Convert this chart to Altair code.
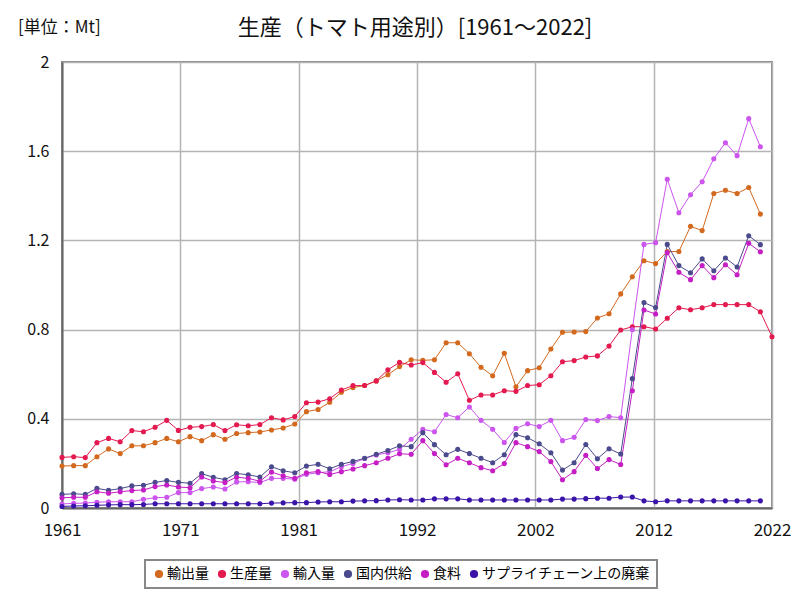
import altair as alt
import pandas as pd

years = list(range(1961, 2023))

export_qty = [0.188, 0.190, 0.190, 0.230, 0.265, 0.244, 0.279, 0.279, 0.293, 0.312,
              0.297, 0.320, 0.302, 0.329, 0.308, 0.334, 0.338, 0.341, 0.350, 0.359,
              0.377, 0.432, 0.442, 0.474, 0.519, 0.540, 0.549, 0.570, 0.598, 0.634,
              0.665, 0.662, 0.665, 0.741, 0.741, 0.692, 0.631, 0.593, 0.694, 0.544,
              0.616, 0.629, 0.713, 0.788, 0.789, 0.791, 0.852, 0.871, 0.960, 1.037,
              1.109, 1.096, 1.150, 1.150, 1.263, 1.244, 1.410, 1.425, 1.410, 1.437,
              1.318, None]
production = [0.227, 0.230, 0.226, 0.293, 0.312, 0.297, 0.347, 0.342, 0.362, 0.393,
              0.348, 0.362, 0.365, 0.374, 0.347, 0.373, 0.369, 0.374, 0.405, 0.395,
              0.410, 0.472, 0.475, 0.490, 0.529, 0.549, 0.549, 0.570, 0.620, 0.653,
              0.641, 0.652, 0.608, 0.564, 0.602, 0.483, 0.507, 0.507, 0.526, 0.523,
              0.549, 0.553, 0.593, 0.656, 0.661, 0.677, 0.682, 0.726, 0.798, 0.813,
              0.813, 0.803, 0.851, 0.898, 0.889, 0.898, 0.912, 0.912, 0.912, 0.912,
              0.880, 0.768]
import_qty = [0.018, 0.021, 0.022, 0.026, 0.028, 0.028, 0.028, 0.039, 0.046, 0.048,
              0.069, 0.069, 0.087, 0.094, 0.085, 0.117, 0.118, 0.114, 0.133, 0.133,
              0.129, 0.151, 0.158, 0.163, 0.185, 0.200, 0.222, 0.238, 0.248, 0.262,
              0.308, 0.353, 0.342, 0.419, 0.405, 0.453, 0.393, 0.353, 0.294, 0.357,
              0.378, 0.365, 0.393, 0.302, 0.317, 0.397, 0.392, 0.410, 0.405, 0.800,
              1.182, 1.190, 1.474, 1.324, 1.405, 1.463, 1.566, 1.638, 1.580, 1.746,
              1.620, None]
domestic = [0.061, 0.064, 0.061, 0.088, 0.079, 0.087, 0.099, 0.102, 0.115, 0.123,
            0.115, 0.111, 0.154, 0.138, 0.127, 0.155, 0.149, 0.139, 0.185, 0.167,
            0.158, 0.188, 0.196, 0.176, 0.196, 0.209, 0.223, 0.241, 0.258, 0.279,
            0.275, 0.338, 0.284, 0.239, 0.263, 0.244, 0.223, 0.203, 0.239, 0.329,
            0.315, 0.288, 0.248, 0.170, 0.203, 0.285, 0.221, 0.266, 0.242, 0.580,
            0.921, 0.899, 1.182, 1.087, 1.055, 1.117, 1.064, 1.121, 1.081, 1.221,
            1.181, None]
food = [0.046, 0.048, 0.048, 0.073, 0.066, 0.073, 0.078, 0.081, 0.096, 0.103,
        0.094, 0.091, 0.139, 0.121, 0.114, 0.138, 0.133, 0.120, 0.161, 0.144,
        0.133, 0.158, 0.164, 0.150, 0.163, 0.175, 0.190, 0.203, 0.223, 0.243,
        0.241, 0.302, 0.244, 0.194, 0.223, 0.203, 0.181, 0.167, 0.199, 0.293,
        0.275, 0.253, 0.208, 0.127, 0.163, 0.236, 0.177, 0.217, 0.195, 0.526,
        0.888, 0.870, 1.145, 1.057, 1.024, 1.087, 1.033, 1.091, 1.046, 1.187,
        1.149, None]
waste = [0.007, 0.009, 0.010, 0.012, 0.014, 0.015, 0.015, 0.016, 0.019, 0.019,
         0.019, 0.019, 0.019, 0.019, 0.019, 0.019, 0.019, 0.019, 0.022, 0.023,
         0.024, 0.024, 0.027, 0.028, 0.028, 0.031, 0.032, 0.033, 0.036, 0.037,
         0.036, 0.036, 0.041, 0.041, 0.041, 0.036, 0.036, 0.036, 0.036, 0.036,
         0.036, 0.036, 0.036, 0.040, 0.040, 0.042, 0.044, 0.044, 0.049, 0.049,
         0.032, 0.028, 0.032, 0.032, 0.032, 0.032, 0.032, 0.032, 0.032, 0.032,
         0.032, None]

series_names = ["輸出量", "生産量", "輸入量", "国内供給", "食料", "サプライチェーン上の廃棄"]
series_colors = ["#d2691e", "#e3194f", "#cc55ee", "#4b4a8c", "#c41ec4", "#3a14a8"]
series_values = [export_qty, production, import_qty, domestic, food, waste]

title_text = "生産（トマト用途別）[1961～2022]"
unit_text = "[単位：Mt]"
y_ticks = [0, 0.4, 0.8, 1.2, 1.6, 2]
x_ticks = [1961 + 61 * i / 6 for i in range(7)]

rows = []
for name, vals in zip(series_names, series_values):
    for yr, v in zip(years, vals):
        if v is not None:
            rows.append({"year": yr, "value": v, "series": name})
df = pd.DataFrame(rows)

FONT = "Liberation Sans Narrow, Noto Sans CJK JP, sans-serif"

lines = alt.Chart(df).mark_line(
    strokeWidth=1,
    point=alt.OverlayMarkDef(filled=True, size=26),
).encode(
    x=alt.X("year:Q",
            scale=alt.Scale(domain=[1961, 2022], nice=False, zero=False),
            axis=alt.Axis(values=x_ticks, labelExpr="round(datum.value)", title=None,
                          labelPadding=14, labelFlush=False, labelOverlap=False,
                          labelFontSize=17)),
    y=alt.Y("value:Q",
            scale=alt.Scale(domain=[0, 2], nice=False),
            axis=alt.Axis(values=y_ticks, format=".1~f", title=None, labelPadding=13,
                          minExtent=46, maxExtent=46, labelFlush=False,
                          labelFontSize=16)),
    color=alt.Color("series:N",
                    scale=alt.Scale(domain=series_names, range=series_colors),
                    legend=alt.Legend(title=None, orient="none", legendX=83, legendY=498,
                                      direction="horizontal", columns=6,
                                      symbolType="circle", symbolSize=45,
                                      labelFontSize=14, labelFont=FONT,
                                      columnPadding=6, symbolOffset=0, labelOffset=1,
                                      padding=7, strokeColor="#888888",
                                      fillColor="white", labelLimit=300)),
    order=alt.Order("year:Q"),
)

title_mark = alt.Chart(pd.DataFrame({"t": [title_text]})).mark_text(
    fontSize=22, font=FONT, align="center", baseline="middle", color="#111111"
).encode(text="t:N", x=alt.value(353), y=alt.value(-34))

unit_mark = alt.Chart(pd.DataFrame({"t": [unit_text]})).mark_text(
    fontSize=17, font=FONT, align="left", baseline="middle", color="#111111"
).encode(text="t:N", x=alt.value(-44), y=alt.value(-34))

chart = alt.layer(lines, title_mark, unit_mark).properties(
    width=710, height=446,
    autosize=alt.AutoSizeParams(type="none"),
    padding={"left": 54, "top": 54, "right": 20, "bottom": 84},
).configure_view(
    stroke="#8a8a8a", strokeWidth=2
).configure_axis(
    domain=True, domainColor="#666666", domainWidth=2,
    ticks=False, grid=True, gridColor="#b4b4b4", gridWidth=1.5,
    labelFont=FONT, labelColor="#111111",
).configure_legend(
    strokeWidth=2
)

chart.save("out.html", embed_options={"renderer": "svg", "actions": False})
